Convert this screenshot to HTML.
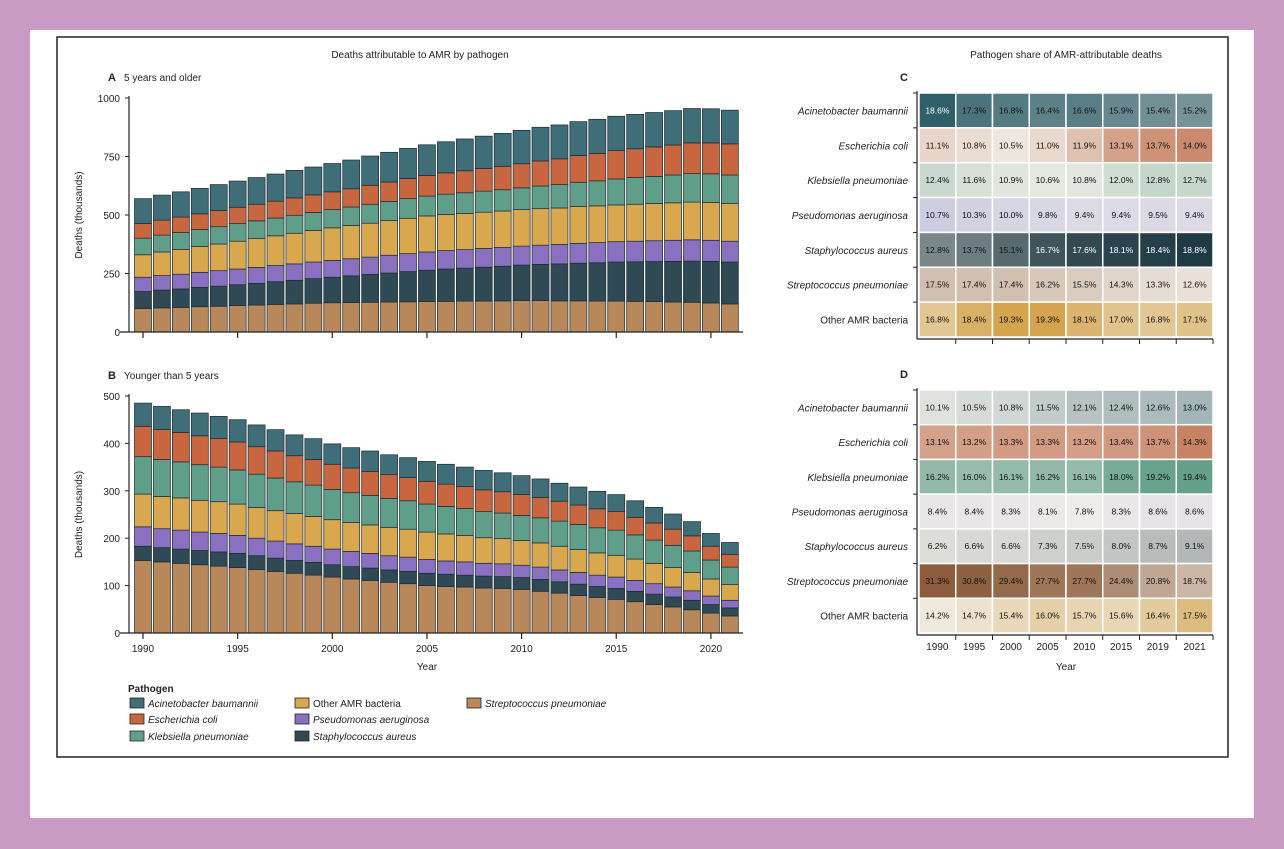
<!DOCTYPE html>
<html><head><meta charset="utf-8">
<style>
html,body{margin:0;padding:0;background:#c99bc5;}
body{width:1284px;height:849px;position:relative;overflow:hidden;font-family:"Liberation Sans",sans-serif;}
#card{position:absolute;left:30px;top:30px;width:1224px;height:788px;background:#fff;}
svg{position:absolute;left:0;top:0;}
</style></head>
<body>
<div id="card"></div>
<svg id="fig" width="1284" height="849"></svg>
<script>
const years = [1990,1991,1992,1993,1994,1995,1996,1997,1998,1999,2000,2001,2002,2003,2004,2005,2006,2007,2008,2009,2010,2011,2012,2013,2014,2015,2016,2017,2018,2019,2020,2021];
const pathogens = ["Streptococcus pneumoniae","Staphylococcus aureus","Pseudomonas aeruginosa","Other AMR bacteria","Klebsiella pneumoniae","Escherichia coli","Acinetobacter baumannii"];
const colors = ["#b8875a","#2f4a55","#8a70c0","#d9a84e","#5f9e88","#c8673f","#3f6e78"];
// Panel A (5 years and older), thousands
const aStrep = [100,103,105,108,110,113,115,118,120,123,125,126,127,128,129,130,131,132,132,133,134,134,133,133,132,132,131,130,128,127,124,120];
const aStaph = [73,76,79,83,86,89,93,97,101,105,109,114,119,124,129,134,138,141,145,148,152,155,158,161,164,167,169,171,174,176,178,179];
const aPseudo = [61,62,63,64,66,67,68,69,70,71,72,73,74,76,77,78,79,79,80,80,81,82,83,85,86,87,88,89,90,91,90,89];
const aOther = [96,101,105,110,114,119,123,127,131,135,139,142,145,148,151,154,154,155,155,156,156,156,156,157,157,157,158,159,160,161,162,162];
const aKleb = [71,72,73,73,74,75,76,76,77,77,78,79,81,82,84,85,87,88,90,91,93,97,100,104,107,111,114,116,119,122,122,121];
const aEcoli = [63,64,66,67,69,70,71,72,74,75,76,78,81,83,86,88,91,94,97,100,103,107,110,114,117,121,123,126,128,131,132,133];
const aAcin = [106,107,108,109,111,112,114,116,118,119,121,123,125,127,129,131,133,136,138,141,143,144,145,145,146,147,147,147,147,147,146,144];
// Panel B (younger than 5 years), thousands
const bStrep = [153,150,147,144,141,138,134,130,126,122,118,114,111,107,104,100,98,97,95,94,92,88,84,79,75,71,66,60,55,49,42,36];
const bStaph = [30,30,30,30,30,30,29,28,27,27,26,26,26,26,26,26,26,25,25,25,25,25,24,24,23,23,22,22,21,20,18,17];
const bPseudo = [41,40,40,39,39,38,37,36,35,34,33,32,31,30,30,29,28,28,27,27,26,26,25,25,24,24,23,22,21,20,18,16];
const bOther = [69,68,68,67,67,66,65,64,64,63,62,61,60,60,59,58,57,56,54,53,52,51,50,48,47,46,45,43,41,39,36,33];
const bKleb = [79,78,76,75,73,72,70,69,67,66,64,63,62,61,60,59,58,57,55,54,53,53,53,53,53,53,51,49,47,45,40,37];
const bEcoli = [64,63,62,61,60,59,58,57,55,54,53,52,51,50,49,48,47,46,46,45,44,43,42,41,40,39,37,36,34,32,29,27];
const bAcin = [49,49,48,48,47,47,46,45,44,44,43,43,43,42,42,42,42,41,41,40,40,39,38,38,37,36,35,33,32,30,27,25];
const aTicks = [0,250,500,750,1000];
const bTicks = [0,100,200,300,400,500];
const xTickYears = [1990,1995,2000,2005,2010,2015,2020];
// Heatmaps
const hmYears = ["1990","1995","2000","2005","2010","2015","2019","2021"];
const hmRows = ["Acinetobacter baumannii","Escherichia coli","Klebsiella pneumoniae","Pseudomonas aeruginosa","Staphylococcus aureus","Streptococcus pneumoniae","Other AMR bacteria"];
const cAcin=[18.6,17.3,16.8,16.4,16.6,15.9,15.4,15.2];
const cEcoli=[11.1,10.8,10.5,11.0,11.9,13.1,13.7,14.0];
const cKleb=[12.4,11.6,10.9,10.6,10.8,12.0,12.8,12.7];
const cPseudo=[10.7,10.3,10.0,9.8,9.4,9.4,9.5,9.4];
const cStaph=[12.8,13.7,15.1,16.7,17.6,18.1,18.4,18.8];
const cStrep=[17.5,17.4,17.4,16.2,15.5,14.3,13.3,12.6];
const cOther=[16.8,18.4,19.3,19.3,18.1,17.0,16.8,17.1];
const dAcin=[10.1,10.5,10.8,11.5,12.1,12.4,12.6,13.0];
const dEcoli=[13.1,13.2,13.3,13.3,13.2,13.4,13.7,14.3];
const dKleb=[16.2,16.0,16.1,16.2,16.1,18.0,19.2,19.4];
const dPseudo=[8.4,8.4,8.3,8.1,7.8,8.3,8.6,8.6];
const dStaph=[6.2,6.6,6.6,7.3,7.5,8.0,8.7,9.1];
const dStrep=[31.3,30.8,29.4,27.7,27.7,24.4,20.8,18.7];
const dOther=[14.2,14.7,15.4,16.0,15.7,15.6,16.4,17.5];

const NS="http://www.w3.org/2000/svg";
const svg=document.getElementById('fig');
function mk(tag,attrs,parent){const e=document.createElementNS(NS,tag);for(const k in attrs)e.setAttribute(k,attrs[k]);(parent||svg).appendChild(e);return e;}
function txt(s,attrs,parent){const e=mk('text',Object.assign({'font-family':'Liberation Sans, sans-serif','font-size':10,fill:'#222'},attrs),parent);e.textContent=s;return e;}

const frame=mk('rect',{x:57,y:37,width:1171,height:720,fill:'none',stroke:'#222','stroke-width':1.5});



let t=txt('Deaths attributable to AMR by pathogen',{x:420,y:58,'text-anchor':'middle','font-size':10});


t=txt('Pathogen share of AMR-attributable deaths',{x:1066,y:58,'text-anchor':'middle','font-size':10});



const x0=143, dx=18.93, bw=17;
function xOf(y){return x0+(y-1990)*dx;}

function drawPanel(name,series,yBase,yTopPx,maxV,ticks,label,showYears){
  const g=mk('g',{});
  
  
  const yS=v=>yBase-(v/maxV)*(yBase-yTopPx);
  years.forEach((yr,i)=>{
    let acc=0;
    series.forEach((s,k)=>{
      const v=s[i];
      const r=mk('rect',{x:xOf(yr)-bw/2,y:yS(acc+v),width:bw,height:yS(acc)-yS(acc+v),fill:colors[k],stroke:'#1e2a30','stroke-width':0.7},g);
      
      
      acc+=v;
    });
  });
  mk('line',{x1:129,y1:yTopPx-2,x2:129,y2:yBase,stroke:'#222','stroke-width':1.2},g);
  mk('line',{x1:120,y1:yBase,x2:743,y2:yBase,stroke:'#222','stroke-width':1.2},g);
  ticks.forEach(v=>{
    mk('line',{x1:125,y1:yS(v),x2:129,y2:yS(v),stroke:'#222'},g);
    const tl=txt(String(v),{x:120,y:yS(v)+4,'text-anchor':'end','font-size':10},g);
    
    
  });
  xTickYears.forEach(yr=>{
    mk('line',{x1:xOf(yr),y1:yBase,x2:xOf(yr),y2:yBase+6,stroke:'#222','stroke-width':1.2},g);
    if(showYears){const tl=txt(String(yr),{x:xOf(yr),y:yBase+19,'text-anchor':'middle','font-size':10},g);
      
      }
  });
  const yt=txt('Deaths (thousands)',{x:0,y:0,'text-anchor':'middle','font-size':10,transform:'translate(82,'+((yBase+yTopPx)/2)+') rotate(-90)'},g);
  
  
  const pl=txt(label[0],{x:108,y:yTopPx-17,'font-size':11,'font-weight':'bold'},g);
  
  
  const st=txt(label[1],{x:124,y:yTopPx-17,'font-size':10},g);
  
  
}
drawPanel('panel-a-chart',[aStrep,aStaph,aPseudo,aOther,aKleb,aEcoli,aAcin],332,98,1000,aTicks,['A','5 years and older'],false);
drawPanel('panel-b-chart',[bStrep,bStaph,bPseudo,bOther,bKleb,bEcoli,bAcin],633,396,500,bTicks,['B','Younger than 5 years'],true);
t=txt('Year',{x:427,y:670,'text-anchor':'middle','font-size':10});



const leg=mk('g',{});


t=txt('Pathogen',{x:128,y:692,'font-size':10,'font-weight':'bold'},leg);
const legItems=[[6,130,706],[5,130,722],[4,130,739],[3,295,706],[2,295,722],[1,295,739],[0,467,706]];
legItems.forEach(([k,x,y])=>{
  const it=mk('g',{},leg);
  
  
  mk('rect',{x:x,y:y-8,width:14,height:10,fill:colors[k],stroke:'#222','stroke-width':0.8},it);
  txt(pathogens[k],{x:x+18,y:y+1,'font-size':10,'font-style':k===3?'normal':'italic'},it);
});

const light=[243,240,234];
const darkCols=[[47,95,106],[200,130,100],[100,160,138],[205,205,225],[31,58,68],[140,92,60],[212,164,78]];
const cRows=[cAcin,cEcoli,cKleb,cPseudo,cStaph,cStrep,cOther];
const dRows=[dAcin,dEcoli,dKleb,dPseudo,dStaph,dStrep,dOther];
function drawHeat(name,rows,top,bottom,letter,showYears){
  const g=mk('g',{});
  
  
  const left=919,right=1213,cw=(right-left)/hmYears.length,rh=(bottom-top)/hmRows.length;
  rows.forEach((row,r)=>{
    const all=cRows[r].concat(dRows[r]);
    const mn=Math.min(...all),mx=Math.max(...all);
    row.forEach((v,c)=>{
      const tt=0.1+0.9*(v-mn)/(mx-mn||1);
      const col=light.map((l,i)=>Math.round(l+(darkCols[r][i]-l)*tt));
      const cell=mk('rect',{x:left+c*cw,y:top+r*rh,width:cw,height:rh,fill:'rgb('+col.join(',')+')',stroke:'#fff','stroke-width':1.5},g);
      
      
      const lum=0.299*col[0]+0.587*col[1]+0.114*col[2];
      const ct=txt(v.toFixed(1)+'%',{x:left+c*cw+cw/2,y:top+r*rh+rh/2+3,'text-anchor':'middle','font-size':8.5,fill:lum<100?'#fff':'#111'},g);
      
      
    });
    const rl=txt(hmRows[r],{x:908,y:top+r*rh+rh/2+4,'text-anchor':'end','font-size':10,'font-style':r===6?'normal':'italic'},g);
    
    
    mk('line',{x1:913,y1:top+r*rh,x2:917,y2:top+r*rh,stroke:'#222'},g);
  });
  mk('line',{x1:917,y1:top-2,x2:917,y2:bottom+2,stroke:'#222','stroke-width':1.2},g);
  mk('line',{x1:917,y1:bottom+2,x2:right,y2:bottom+2,stroke:'#222','stroke-width':1.2},g);
  hmYears.forEach((y,c)=>{
    mk('line',{x1:left+(c+1)*cw,y1:bottom+2,x2:left+(c+1)*cw,y2:bottom+7,stroke:'#222'},g);
    if(showYears){const yl=txt(y,{x:left+c*cw+cw/2,y:bottom+17,'text-anchor':'middle','font-size':10},g);
      
      }
  });
  const lt=txt(letter,{x:904,y:top-12,'text-anchor':'middle','font-size':11,'font-weight':'bold'},g);
  
  
}
drawHeat('panel-c-heatmap',cRows,93,337,'C',false);
drawHeat('panel-d-heatmap',dRows,390,633,'D',true);
t=txt('Year',{x:1066,y:670,'text-anchor':'middle','font-size':10});


</script>
</body></html>
